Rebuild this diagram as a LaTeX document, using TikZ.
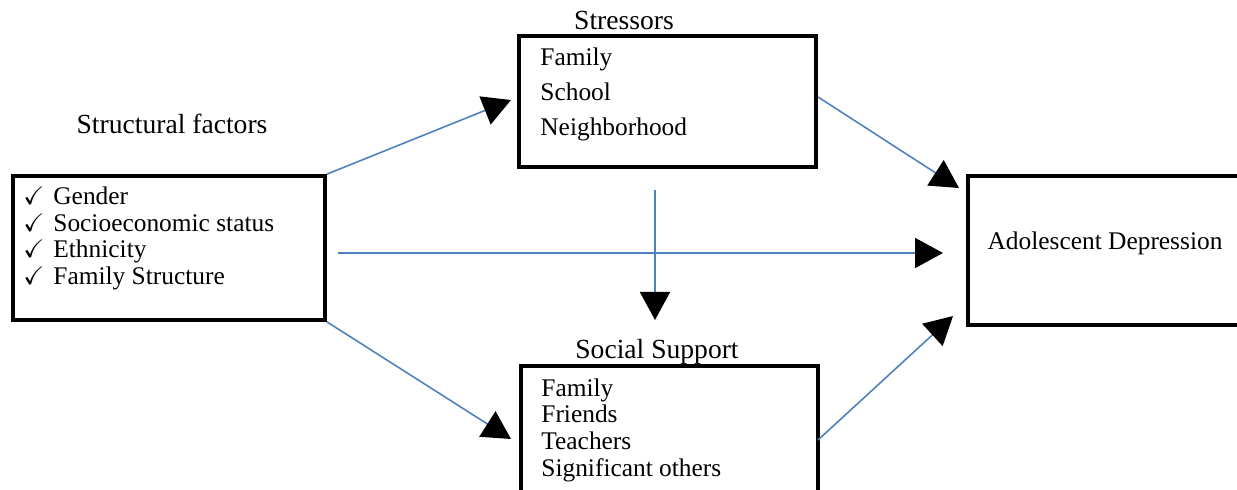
\documentclass[tikz,border=0pt]{standalone}
\usepackage{fontspec}
\setmainfont{Liberation Serif}
\usepackage{amssymb}
\usetikzlibrary{arrows.meta}
\definecolor{lineblue}{HTML}{4F81BD}
\begin{document}
\begin{tikzpicture}[x=0.5pt,y=-0.5pt,
  box/.style={draw=black, line width=1.8pt, inner sep=0pt, rectangle},
  conn/.style={draw=lineblue, line width=0.8pt, -{Triangle[length=14pt,width=15pt,color=black]}},
  head/.style={font=\fontsize{13.8}{16}\selectfont, inner sep=0pt},
  items/.style={font=\fontsize{12.7}{13.4}\selectfont, inner sep=0pt, align=left, anchor=west}]
\clip (0,0) rectangle (1237,490);
% boxes
\node[box, minimum width=156pt, minimum height=72pt] (sf) at (169,248) {};
\node[box, minimum width=148.5pt, minimum height=65.5pt] (st) at (667.5,101.5) {};
\node[box, minimum width=148.5pt, minimum height=70pt] (ss) at (669.5,436) {};
\node[box, minimum width=138.5pt, minimum height=74.5pt] (ad) at (1106.5,250.5) {};
% headings
\node[head] (sfh) at (172,124) {Structural factors};
\node[head] (sth) at (624,21) {Stressors};
\node[head] (ssh) at (657,352) {Social Support};
% contents
\node[items] (sft) at (23,238.5) {\makebox[15pt][l]{$\checkmark$}Gender\\
\makebox[15pt][l]{$\checkmark$}Socioeconomic status\\
\makebox[15pt][l]{$\checkmark$}Ethnicity\\
\makebox[15pt][l]{$\checkmark$}Family Structure};
\node[items, font=\fontsize{12.7}{17.5}\selectfont] (stt) at (540,94) {Family\\School\\Neighborhood};
\node[items, font=\fontsize{12.7}{13.35}\selectfont] (sst) at (541,430) {Family\\Friends\\Teachers\\Significant others};
\node[font=\fontsize{12.7}{15}\selectfont, inner sep=0pt] (adt) at (1105,243) {Adolescent Depression};
% connector end points
\coordinate (a1) at (511,100);
\coordinate (s2) at (338,253);
\coordinate (a2) at (943,253);
\coordinate (a3) at (511,439);
\coordinate (s4) at (655,190);
\coordinate (a4) at (655,320);
\coordinate (s5) at (818,97);
\coordinate (a5) at (959,188);
\coordinate (s6) at (818,440);
\coordinate (a6) at (953,316);
% connectors
\draw[conn] (sf.north east) -- (a1);
\draw[conn] (s2) -- (a2);
\draw[conn] (sf.south east) -- (a3);
\draw[conn] (s4) -- (a4);
\draw[conn] (s5) -- (a5);
\draw[conn] (s6) -- (a6);
\end{tikzpicture}
\end{document}
